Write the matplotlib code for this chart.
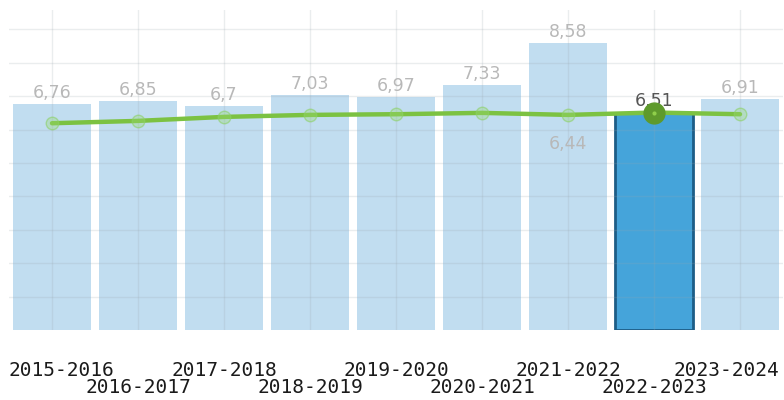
import matplotlib
matplotlib.use("Agg")
import matplotlib.pyplot as plt
from matplotlib.transforms import blended_transform_factory

seasons = ["2015-2016", "2016-2017", "2017-2018", "2018-2019", "2019-2020",
           "2020-2021", "2021-2022", "2022-2023", "2023-2024"]
bar_values = [6.76, 6.85, 6.70, 7.03, 6.97, 7.33, 8.58, 6.51, 6.91]
line_values = [6.19, 6.26, 6.38, 6.44, 6.46, 6.50, 6.44, 6.51, 6.46]
highlight = "2022-2023"
line_label_season = "2021-2022"

fig = plt.figure(figsize=(7.84, 4.0), dpi=100)
ax = fig.add_axes([9 / 784, 70 / 400, 774 / 784, 320 / 400])

x = list(range(len(seasons)))
hi = seasons.index(highlight)

light = "#c1ddf0"
colors = [("#45a4da" if i == hi else light) for i in x]
edges = [("#1d5d86" if i == hi else "none") for i in x]
lws = [2.0 if i == hi else 0 for i in x]
ax.bar(x, bar_values, width=0.9, color=colors, edgecolor=edges, linewidth=lws, zorder=1)

# gridlines (drawn over bars, faint)
ax.set_yticks(range(1, 10))
ax.set_xticks(x)
ax.grid(True, color="#9aa5ad", alpha=0.2, linewidth=1.0, zorder=2)
ax.set_axisbelow(False)
ax.tick_params(length=0, labelbottom=False, labelleft=False)
for s in ax.spines.values():
    s.set_visible(False)

ax.set_xlim(-0.5, len(seasons) - 0.5)
ax.set_ylim(0, 9.58)

# line series
ax.plot(x, line_values, color="#7cc242", linewidth=3.2, zorder=4, solid_capstyle="round")
ax.plot(x, line_values, linestyle="none", marker="o", markersize=9,
        markerfacecolor=(0.6, 0.85, 0.45, 0.35), markeredgecolor=(0.55, 0.82, 0.4, 0.6),
        markeredgewidth=1.0, zorder=5)

# value labels for bars
for i, v in enumerate(bar_values):
    txt = f"{v:g}".replace(".", ",")
    col = "#555555" if i == hi else "#b8b8b8"
    ax.annotate(txt, (i, v), xytext=(0, 1.5), textcoords="offset points",
                ha="center", va="bottom", fontsize=12.5, color=col, zorder=3)

# line label below point
li = seasons.index(line_label_season)
ax.annotate(f"{line_values[li]:g}".replace(".", ","), (li, line_values[li]),
            xytext=(0, -21), textcoords="offset points", ha="center", va="center",
            fontsize=12.5, color="#b8b8b8", zorder=3)

# highlighted point
ax.plot([hi], [line_values[hi]], linestyle="none", marker="o", markersize=15,
        markerfacecolor="#5e9a2c", markeredgecolor="#5e9a2c", zorder=6)
ax.plot([hi], [line_values[hi]], linestyle="none", marker="o", markersize=3,
        markerfacecolor="#8fcf4a", markeredgecolor="none", zorder=7)

# staggered x labels (first and last kept inside the figure)
tr = ax.get_xaxis_transform()
tr_axes = ax.transAxes
n = len(seasons)
for i, s in enumerate(seasons):
    y = -0.125 if i % 2 == 0 else -0.181
    kw = dict(va="center", fontsize=14, family="DejaVu Sans Mono",
              color="#1a1a1a", clip_on=False)
    if i == 0:
        ax.text(-0.001, y, s, transform=tr_axes, ha="left", **kw)
    elif i == n - 1:
        ax.text(0.9948, y, s, transform=tr_axes, ha="right", **kw)
    else:
        ax.text(i, y, s, transform=tr, ha="center", **kw)

fig.savefig("out.png", dpi=100)
